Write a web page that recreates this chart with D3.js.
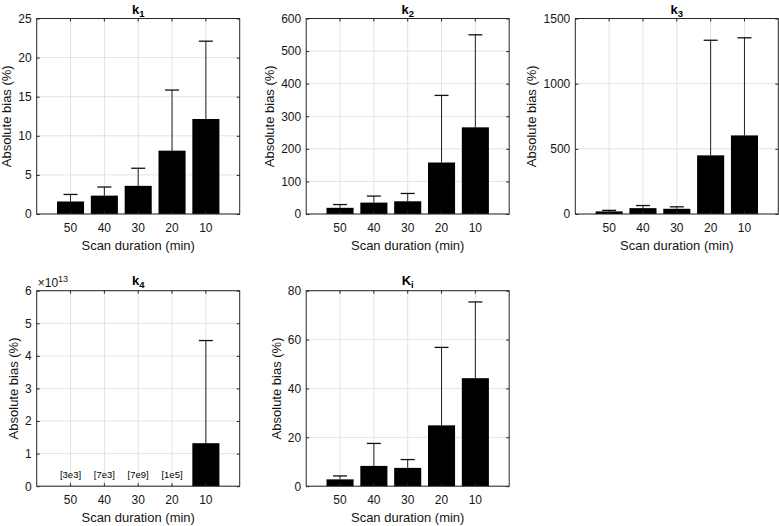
<!DOCTYPE html>
<html>
<head>
<meta charset="utf-8">
<script src="https://cdn.jsdelivr.net/npm/d3@7"></script>
<style>
  body { margin: 0; background: #fff; }
  svg { display: block; font-family: "Liberation Sans", Arial, Helvetica, sans-serif; }
</style>
</head>
<body>
<svg id="chart" width="779" height="526"></svg>
<script>
// ---------------- data ----------------
const categories = ["50", "40", "30", "20", "10"];

const k1Mean  = [1.6, 2.35, 3.6, 8.1, 12.15];
const k1Upper = [2.5, 3.45, 5.85, 15.85, 22.1];
const k1Ticks = [0, 5, 10, 15, 20, 25];

const k2Mean  = [19, 35, 39, 158, 266];
const k2Upper = [29, 55, 63, 364, 550];
const k2Ticks = [0, 100, 200, 300, 400, 500, 600];

const k3Mean  = [20, 45, 40, 450, 603];
const k3Upper = [28, 65, 55, 1333, 1352];
const k3Ticks = [0, 500, 1000, 1500];

const k4Mean  = [3e3, 7e3, 7e9, 1e5, 1.32e13];
const k4Upper = [null, null, null, null, 4.47e13];
const k4Ticks = [0, 1e13, 2e13, 3e13, 4e13, 5e13, 6e13];
const k4Notes = ["[3e3]", "[7e3]", "[7e9]", "[1e5]", ""];

const kiMean  = [2.8, 8.3, 7.5, 24.9, 44.2];
const kiUpper = [4.2, 17.5, 10.9, 56.8, 75.4];
const kiTicks = [0, 20, 40, 60, 80];

const xLabel = "Scan duration (min)";
const yLabel = "Absolute bias (%)";

// ---------------- layout ----------------
const colLeft = [36.7, 306.2, 575.3];
const rowTop = [18.5, 290.7];
const W = 203, H = 195.5;

const panels = [
  { title: "k", sub: "1", mean: k1Mean, upper: k1Upper, ticks: k1Ticks, col: 0, row: 0 },
  { title: "k", sub: "2", mean: k2Mean, upper: k2Upper, ticks: k2Ticks, col: 1, row: 0 },
  { title: "k", sub: "3", mean: k3Mean, upper: k3Upper, ticks: k3Ticks, col: 2, row: 0 },
  { title: "k", sub: "4", mean: k4Mean, upper: k4Upper, ticks: k4Ticks, col: 0, row: 1, exp: 13, notes: k4Notes },
  { title: "K", sub: "i", mean: kiMean, upper: kiUpper, ticks: kiTicks, col: 1, row: 1 }
];

const svg = d3.select("#chart");
const axisColor = "#262626";
const gridColor = "#e3e3e3";
const textColor = "#151515";

panels.forEach(p => {
  const g = svg.append("g")
    .attr("transform", `translate(${colLeft[p.col]},${rowTop[p.row]})`);

  const x = d3.scaleBand().domain(categories).range([0, W])
    .paddingInner(0.2).paddingOuter(0.6);
  const yMax = p.ticks[p.ticks.length - 1];
  const y = d3.scaleLinear().domain([0, yMax]).range([H, 0]);
  const cx = c => x(c) + x.bandwidth() / 2;

  // grid
  g.append("g").selectAll("line.gx").data(categories).join("line")
    .attr("x1", d => cx(d)).attr("x2", d => cx(d))
    .attr("y1", 0).attr("y2", H)
    .attr("stroke", gridColor).attr("stroke-width", 1);
  g.append("g").selectAll("line.gy").data(p.ticks).join("line")
    .attr("x1", 0).attr("x2", W)
    .attr("y1", d => y(d)).attr("y2", d => y(d))
    .attr("stroke", gridColor).attr("stroke-width", 1);

  // error bars (upper part; lower part hidden inside bar)
  const eb = categories.map((c, i) => ({ c, m: p.mean[i], u: p.upper[i] }))
    .filter(d => d.u != null);
  g.append("g").selectAll("line.ev").data(eb).join("line")
    .attr("x1", d => cx(d.c)).attr("x2", d => cx(d.c))
    .attr("y1", d => y(d.m)).attr("y2", d => y(d.u))
    .attr("stroke", "#222").attr("stroke-width", 1);
  g.append("g").selectAll("line.ec").data(eb).join("line")
    .attr("x1", d => cx(d.c) - 7).attr("x2", d => cx(d.c) + 7)
    .attr("y1", d => y(d.u)).attr("y2", d => y(d.u))
    .attr("stroke", "#111").attr("stroke-width", 1.3);

  // bars
  g.append("g").selectAll("rect").data(categories.map((c, i) => ({ c, v: p.mean[i] }))).join("rect")
    .attr("x", d => x(d.c)).attr("width", x.bandwidth())
    .attr("y", d => y(d.v)).attr("height", d => H - y(d.v))
    .attr("fill", "#000");

  // notes (k4)
  if (p.notes) {
    g.append("g").selectAll("text").data(categories.map((c, i) => ({ c, t: p.notes[i] }))).join("text")
      .attr("x", d => cx(d.c)).attr("y", H - 8)
      .attr("text-anchor", "middle").attr("font-size", 9.5).attr("fill", "#000")
      .text(d => d.t);
  }

  const fmt = p.exp ? (v => String(Math.round(v / Math.pow(10, p.exp)))) : d3.format("d");

  // axes (ticks inward)
  const ax = g.append("g").attr("class", "axes");
  const left = ax.append("g").call(d3.axisLeft(y).tickValues(p.ticks).tickFormat(fmt).tickSize(-3).tickSizeOuter(0).tickPadding(5));
  const right = ax.append("g").attr("transform", `translate(${W},0)`)
    .call(d3.axisRight(y).tickValues(p.ticks).tickFormat("").tickSize(-3).tickSizeOuter(0));
  const bottom = ax.append("g").attr("transform", `translate(0,${H})`)
    .call(d3.axisBottom(x).tickSize(-3).tickSizeOuter(0).tickPadding(9));
  const top = ax.append("g")
    .call(d3.axisTop(x).tickFormat("").tickSize(-3).tickSizeOuter(0));
  [left, right, bottom, top].forEach(a => {
    a.select(".domain").remove();
    a.selectAll(".tick line").attr("stroke", axisColor);
    a.selectAll("text").attr("font-size", 12).attr("fill", textColor)
      .attr("font-family", "'Liberation Sans', Arial, Helvetica, sans-serif");
  });
  bottom.selectAll("text").attr("dy", "0.71em");

  // box
  g.append("rect").attr("x", 0).attr("y", 0).attr("width", W).attr("height", H)
    .attr("fill", "none").attr("stroke", axisColor).attr("stroke-width", 1);

  // exponent label
  if (p.exp) {
    const t = g.append("text").attr("x", 1).attr("y", -3.5).attr("font-size", 12).attr("fill", textColor);
    t.append("tspan").text("\u00d710");
    t.append("tspan").attr("dy", -5).attr("font-size", 9).text(String(p.exp));
  }

  // title
  const tt = g.append("text").attr("x", W / 2).attr("y", p.row === 0 ? -5 : -6)
    .attr("text-anchor", "middle").attr("font-size", 13).attr("font-weight", "bold").attr("fill", "#000");
  tt.append("tspan").text(p.title);
  tt.append("tspan").attr("dy", 3).attr("font-size", 9.5).text(p.sub);

  // x label
  g.append("text").attr("x", W / 2).attr("y", H + 36)
    .attr("text-anchor", "middle").attr("font-size", 13).attr("fill", textColor)
    .text(xLabel);

  // y label
  let maxW = 0;
  left.selectAll("text").each(function () { maxW = Math.max(maxW, this.getBBox().width); });
  const lx = -3 - 5 - maxW - 4;
  g.append("text").attr("transform", `translate(${lx},${H / 2}) rotate(-90)`)
    .attr("text-anchor", "middle").attr("font-size", 13).attr("fill", textColor)
    .text(yLabel);
});
</script>
</body>
</html>
